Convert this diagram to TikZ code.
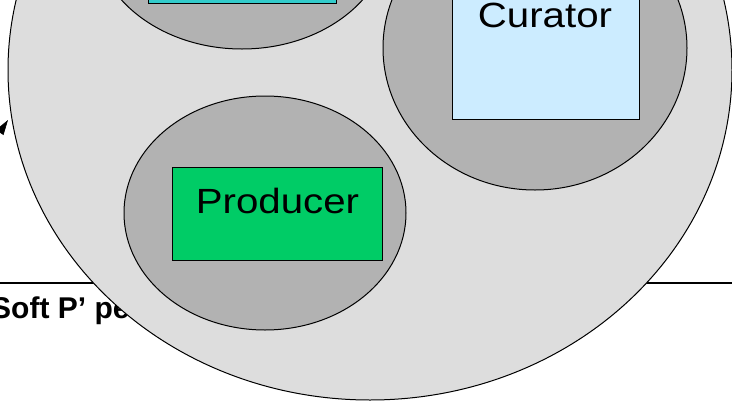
\documentclass[tikz,border=0pt]{standalone}
\usepackage{graphicx}
\usepackage{fontspec}
\setmainfont{Liberation Sans}
\usetikzlibrary{arrows.meta}
\definecolor{outergray}{HTML}{DDDDDD}
\definecolor{innergray}{HTML}{B2B2B2}
\definecolor{prodgreen}{HTML}{00CC66}
\definecolor{curblue}{HTML}{CCECFF}
\definecolor{topteal}{HTML}{33CCCC}
\newcommand{\widetext}[1]{\scalebox{1.15}[1]{#1}}
\tikzset{
  rolebox/.style = {draw, line width=1pt, inner sep=0pt, outer sep=0pt},
  rolename/.style = {font=\fontsize{35}{42}\selectfont, anchor=base, inner sep=0pt},
  bubble/.style = {draw, line width=1pt, fill=innergray}
}
\begin{document}
\begin{tikzpicture}[x=1pt, y=-1pt]
\useasboundingbox (0,0) rectangle (732,405);
\clip (0,0) rectangle (732,405);
% rule and heading, both behind the big circle
\draw [line width=2pt] (0,283) -- (732,283);
\node [anchor=base west, inner sep=0pt, font=\fontsize{30}{36}\selectfont\bfseries] (heading) at (-9,318) {Soft P’ pe};
% arrow coming in from the left
\coordinate (tail) at (-22,165);
\coordinate (tip) at (8,120);
\draw [line width=0.6pt, -{Triangle[length=15pt, width=9pt]}] (tail) -- (tip);
% big circle
\draw [line width=1pt, fill=outergray] (370,70) ellipse [x radius=362, y radius=330];
% inner circles
\draw [bubble] (242,-68) ellipse [x radius=148, y radius=117];
\draw [bubble] (535,48) ellipse [x radius=152, y radius=142];
\draw [bubble] (265,213) ellipse [x radius=141, y radius=117];
% boxes
\node [rolebox, fill=topteal, minimum width=188pt, minimum height=93pt] (topbox) at (242,-43.5) {};
\node [rolebox, fill=curblue, minimum width=187pt, minimum height=189pt] (curatorbox) at (545.5,24.5) {};
\node [rolebox, fill=prodgreen, minimum width=210pt, minimum height=93pt] (producerbox) at (277,213.5) {};
\node [rolename] (curator) at (545,27) {\widetext{Curator}};
\node [rolename] (producer) at (277.5,213) {\widetext{Producer}};
\end{tikzpicture}
\end{document}
